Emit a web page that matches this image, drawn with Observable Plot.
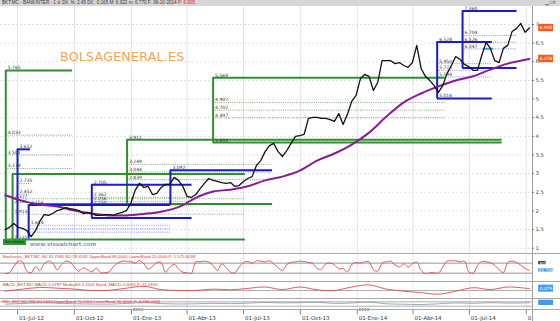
<!DOCTYPE html>
<html><head><meta charset="utf-8">
<script src="https://cdn.jsdelivr.net/npm/d3@7"></script>
<script src="https://cdn.jsdelivr.net/npm/@observablehq/plot@0.6"></script>
<style>
body{margin:0;background:#fff;font-family:"DejaVu Sans",sans-serif}
#root{position:relative;width:560px;height:321px;overflow:hidden;background:#fff}
#root svg{position:absolute;left:0;overflow:visible}
.hdr{position:absolute;left:0;top:0;width:558px;height:6px;background:#d6d6d6;font:4.6px "Liberation Sans";line-height:6px;color:#333;white-space:nowrap;padding-left:2px}
.wm{position:absolute;white-space:nowrap}
</style></head><body><div id="root"></div>
<script>
// ---------- data ----------
const weekStart = "2012-06-11";
const closeWeekly = [1.50,1.56,1.66,1.56,1.53,1.47,1.31,1.47,1.72,1.90,
1.88,1.93,2.01,2.04,2.09,2.06,2.04,2.01,1.93,1.96,
1.93,1.88,1.88,1.90,1.90,1.88,1.93,1.96,2.01,2.20,
2.55,2.74,2.63,2.66,2.44,2.47,2.63,2.71,2.71,2.90,
2.82,2.66,2.39,2.36,2.44,2.60,2.74,2.87,2.82,2.79,
2.76,2.74,2.76,2.66,2.68,2.79,2.87,2.92,3.22,3.35,
3.59,3.75,3.81,3.59,3.46,3.62,3.81,4.00,4.02,4.05,
4.48,4.51,4.51,4.48,4.48,4.45,4.40,4.61,4.32,4.59,
4.94,5.10,5.55,5.66,5.61,5.23,5.45,6.03,6.03,6.03,
5.95,5.98,5.90,5.85,5.98,6.44,5.82,5.61,5.50,5.36,
5.18,5.36,5.69,5.90,6.14,6.06,5.93,5.87,5.77,5.77,
6.17,6.52,6.36,6.03,5.98,6.36,6.44,6.81,6.89,7.03,
6.79,6.905];
const ma200Every4w = [2.42,2.27,2.17,2.12,2.01,1.93,1.88,1.88,1.92,1.98,2.10,2.35,2.52,2.57,2.66,2.82,2.92,3.08,3.35,3.54,3.78,4.10,4.53,4.91,5.15,5.34,5.50,5.61,5.79,5.95,6.076];
const stochK = [18,24,60,92,88,32,22,60,36,76,92,80,40,72,92,86,56,32,52,40,28,50,24,22,28,60,80,92,92,90,80,96,76,44,60,84,84,26,56,74,46,26,22,20,88,88,92,86,66,36,76,52,26,22,56,84,90,80,94,92,88,94,76,52,
36,72,84,88,92,90,84,78,48,44,76,80,70,46,48,28,72,84,80,88,88,40,32,80,88,92,68,58,76,56,76,86,36,18,22,22,20,56,92,94,94,88,92,28,20,64,90,88,82,68,40,24,84,92,84,68,48,36];
const macdEvery4w = [-0.03,0.06,0.13,0.10,0.06,0.00,0.01,0.10,0.18,0.04,0.00,0.00,0.06,0.03,0.09,0.15,0.04,0.15,0.03,0.00,0.15,0.24,0.06,-0.03,-0.09,-0.16,-0.03,0.12,0.04,0.15,0.079];
const rsiEvery4w = [48,55,60,58,52,50,49,55,62,54,50,52,56,53,58,64,60,62,66,55,60,67,52,48,45,52,60,56,62,58,61];
const priceTicks = [1,1.5,2,2.5,3,3.5,4,4.5,5,5.5,6,6.5,7];
const quarterTicks = ["2012-07-01","2012-10-01","2013-01-01","2013-04-01","2013-07-01","2013-10-01","2014-01-01","2014-04-01","2014-07-01","2014-10-01"];
const yearTicks = ["2013-01-01","2014-01-01"];
const monthNames = ["Ene","Feb","Mar","Abr","May","Jun","Jul","Ago","Sep","Oct","Nov","Dic"];

// drawing-tool lines: [from, to, value]
const greenLines = [
 ["2012-06-12","2012-09-28",5.765],
 ["2012-06-12","2013-07-04",1.231],
 ["2012-06-23","2013-07-04",2.993],
 ["2012-07-22","2013-08-17",2.185],
 ["2012-12-25","2014-08-23",3.911],
 ["2013-05-13","2014-05-23",5.569],
 ["2013-05-13","2014-08-23",3.833]
];
const greenVerticals = [ ["2012-06-12",1.231,5.765], ["2012-06-23",1.231,2.993], ["2012-12-25",2.177,3.911], ["2013-05-13",3.833,5.569] ];
const blueLines = [
 ["2012-07-01","2012-07-22",3.652],
 ["2012-07-19","2013-03-05",2.156],
 ["2012-10-29","2013-04-09",2.705],
 ["2012-10-29","2013-04-09",1.807],
 ["2013-03-05","2013-08-17",3.092],
 ["2014-05-10","2014-08-07",6.528],
 ["2014-05-10","2014-08-07",5.016],
 ["2014-06-20","2014-09-16",7.360],
 ["2014-06-20","2014-09-16",5.830]
];
const blueVerticals = [ ["2012-07-01",1.25,3.652], ["2012-07-19",1.25,2.156], ["2012-10-29",1.807,2.705], ["2013-03-05",2.156,3.092], ["2014-05-10",5.016,6.528], ["2014-06-20",5.830,7.360] ];
const lightBlueLines = [ ["2014-07-24","2014-08-09",6.35] ];
const greenDotted = [
 ["2012-06-12","2012-09-28",4.033], ["2012-06-12","2012-09-28",3.501], ["2012-06-12","2012-09-28",3.138],
 ["2012-06-23","2013-07-04",2.327], ["2012-06-23","2013-07-04",1.913],
 ["2012-12-25","2013-08-17",3.249], ["2012-12-25","2013-08-17",3.044], ["2012-12-25","2013-08-17",2.839],
 ["2013-05-13","2014-05-23",4.907], ["2013-05-13","2014-05-23",4.702], ["2013-05-13","2014-05-23",4.497]
];
const blueDotted = [
 ["2012-07-01","2012-07-22",2.735], ["2012-07-01","2012-07-22",2.452],
 ["2012-07-19","2013-03-05",1.614], ["2012-07-19","2013-03-05",1.52], ["2012-07-19","2013-03-05",1.43],
 ["2012-10-29","2013-04-09",2.362], ["2012-10-29","2013-04-09",2.256], ["2012-10-29","2013-04-09",2.150],
 ["2014-05-10","2014-08-07",5.950], ["2014-05-10","2014-08-07",5.772], ["2014-05-10","2014-08-07",5.594],
 ["2014-06-20","2014-09-16",6.704], ["2014-06-20","2014-09-16",6.526], ["2014-06-20","2014-09-16",6.347]
];
// level labels: [text, anchor date, value]
const levelLabels = [
 ["5.765","2012-06-12",5.765],["4.033","2012-06-12",4.033],["3.501","2012-06-12",3.501],["3.138","2012-06-12",3.138],
 ["3.652","2012-07-01",3.652],["2.735","2012-07-01",2.735],["2.452","2012-07-01",2.452],
 ["2.327","2012-06-23",2.327],["2.185","2012-06-23",2.185],["1.913","2012-06-23",1.913],["1.231","2012-06-23",1.231],
 ["2.156","2012-07-19",2.156],["1.614","2012-07-19",1.614],
 ["2.705","2012-10-29",2.705],["2.362","2012-10-29",2.362],["2.256","2012-10-29",2.256],["2.150","2012-10-29",2.150],
 ["3.911","2012-12-25",3.911],["3.249","2012-12-25",3.249],["3.044","2012-12-25",3.044],["2.839","2012-12-25",2.839],
 ["3.092","2013-03-05",3.092],
 ["5.569","2013-05-13",5.569],["4.907","2013-05-13",4.907],["4.702","2013-05-13",4.702],["4.497","2013-05-13",4.497],["3.833","2013-05-13",3.833],
 ["6.528","2014-05-10",6.528],["5.950","2014-05-10",5.950],["5.772","2014-05-10",5.772],["5.594","2014-05-10",5.594],["5.016","2014-05-10",5.016],
 ["7.360","2014-06-20",7.360],["6.704","2014-06-20",6.704],["6.526","2014-06-20",6.526],["6.347","2014-06-20",6.347]
];
const lastPrice = 6.905, lastMA = 6.076;
const stochTags = [["80",80,"#3a3a3a"],["35.708",35.708,"#3d9cf0"]];

// ---------- helpers ----------
const D = s => new Date(s + "T00:00:00Z");
const xDomain = [new Date("2012-06-03T12:00:00Z"), new Date("2014-10-11T00:00:00Z")];
const xEnd = xDomain[1];
const off = n => d3.utcDay.offset(xEnd, n);
const tagX1 = off(10.5), tagX2 = off(34), tagXm = off(22.2);
const weekly = (start, vals, step) => vals.map((v, i) => ({date: d3.utcDay.offset(D(start), i * step), v}));
const price = weekly(weekStart, closeWeekly, 7);
const lastDate = price[price.length-1].date;
const ma = weekly(weekStart, ma200Every4w, 28); ma[ma.length-1].date = lastDate;
const stoch = weekly(weekStart, stochK, 7);
const macd = weekly(weekStart, macdEvery4w, 28); macd[macd.length-1].date = lastDate;
const rsi = weekly(weekStart, rsiEvery4w, 28); rsi[rsi.length-1].date = lastDate;
const seg = a => a.map(([f, t, v]) => ({x1: D(f), x2: D(t), y: v}));
const vert = a => a.map(([d, lo, hi]) => ({x: D(d), y1: lo, y2: hi}));
const qTicks = quarterTicks.map(D);
const FONT = "DejaVu Sans";
const GREEN = "#2f8f2f", BLUE = "#1a1ad0";
const root = document.getElementById("root");
const common = {width: 560, marginLeft: 0, marginRight: 28, marginTop: 0, marginBottom: 0,
  style: {fontFamily: FONT, fontSize: "6px", background: "transparent", overflow: "visible"}};

// ---------- main price panel ----------
const main = Plot.plot({
  ...common, height: 253,
  x: {type: "utc", domain: xDomain, axis: null},
  y: {domain: [1, 7], range: [247.7, 24], axis: null},
  marks: [
    Plot.ruleX(qTicks, {stroke: "#dcdcdc", strokeWidth: 0.8}),
    Plot.ruleY(priceTicks, {stroke: "#e0e0e0", strokeDasharray: "2,2"}),
    Plot.ruleY(seg(greenDotted), {x1: "x1", x2: "x2", y: "y", stroke: "#6f9f6f", strokeWidth: 0.9, strokeDasharray: "1,1.2"}),
    Plot.ruleY(seg(blueDotted), {x1: "x1", x2: "x2", y: "y", stroke: "#7f7fe6", strokeWidth: 0.9, strokeDasharray: "1,1.2"}),
    Plot.ruleY(seg(greenLines), {x1: "x1", x2: "x2", y: "y", stroke: GREEN, strokeWidth: 2}),
    Plot.ruleX(vert(greenVerticals), {x: "x", y1: "y1", y2: "y2", stroke: GREEN, strokeWidth: 2}),
    Plot.ruleY(seg(blueLines), {x1: "x1", x2: "x2", y: "y", stroke: BLUE, strokeWidth: 2}),
    Plot.ruleX(vert(blueVerticals), {x: "x", y1: "y1", y2: "y2", stroke: BLUE, strokeWidth: 2}),
    Plot.ruleY(seg(lightBlueLines), {x1: "x1", x2: "x2", y: "y", stroke: "#3c9ad8", strokeWidth: 2}),
    Plot.lineY(ma, {x: "date", y: "v", stroke: "#8a1a9a", strokeWidth: 2, curve: "monotone-x"}),
    Plot.lineY(price, {x: "date", y: "v", stroke: "#111", strokeWidth: 1.3}),
    Plot.text(levelLabels, {x: d => D(d[1]), y: d => d[2], text: d => d[0], dx: 2, dy: -2.5, textAnchor: "start", fontSize: 4.5, fill: "#333"}),
    Plot.ruleX([xEnd], {stroke: "#888", strokeWidth: 0.8}),
    Plot.ruleY(priceTicks, {x1: xEnd, x2: off(3.5), y: d => d, stroke: "#666"}),
    Plot.text(priceTicks, {x: xEnd, y: d => d, text: d => String(d), dx: 3, textAnchor: "start", fontSize: 5.3, fill: "#444"}),
    Plot.rect([lastPrice, lastMA], {x1: tagX1, x2: tagX2, y1: d => d - 0.1, y2: d => d + 0.1, fill: "#ee5a24"}),
    Plot.text([lastPrice, lastMA], {x: tagXm, y: d => d, text: d => d.toFixed(3), fill: "white", fontSize: 4.4})
  ]
});
main.style.top = "0px";
root.appendChild(main);

// ---------- indicator panels ----------
const panelLabel = (txt) => Plot.text([txt], {frameAnchor: "top-left", dx: 2, dy: 1.5, fill: "#e0303a", fontSize: 4.3, fontFamily: "Liberation Sans", textAnchor: "start"});
const stochPlot = Plot.plot({
  ...common, height: 28,
  x: {type: "utc", domain: xDomain, axis: null},
  y: {domain: [0, 100], range: [23, 6.3], axis: null},
  marks: [
    Plot.ruleX(qTicks, {stroke: "#e2e2e2", strokeWidth: 0.8}),
    Plot.ruleY([80, 20], {stroke: "#8a8a8a", strokeWidth: 0.9}),
    Plot.lineY(stoch, {x: "date", y: "v", stroke: "#e0474c", strokeWidth: 0.9, curve: "catmull-rom"}),
    panelLabel("Stochastic_BKT.MC SK 35.7080 SD 29.6591 UpperBand 80.0000 LowerBand 20.0000 P: 1.575.6098"),
    Plot.ruleX([xEnd], {stroke: "#888", strokeWidth: 0.8}),
    Plot.rect(stochTags, {x1: tagX1, x2: d => d[0].length > 2 ? tagX2 : off(22), y1: d => d[1] - 10, y2: d => d[1] + 10, fill: d => d[2]}),
    Plot.text(stochTags, {x: d => d[0].length > 2 ? tagXm : off(16.2), y: d => d[1], text: d => d[0], fill: "white", fontSize: 4.4})
  ]
});
stochPlot.style.top = "253px";
root.appendChild(stochPlot);

const macdPlot = Plot.plot({
  ...common, height: 17,
  x: {type: "utc", domain: xDomain, axis: null},
  y: {domain: [-0.3, 0.3], range: [16, 2], axis: null},
  marks: [
    Plot.ruleX(qTicks, {stroke: "#e2e2e2", strokeWidth: 0.8}),
    Plot.ruleY([0], {stroke: "#9a9a9a", strokeWidth: 0.8}),
    Plot.lineY(macd, {x: "date", y: "v", stroke: "#e0474c", strokeWidth: 0.9, curve: "catmull-rom"}),
    panelLabel("MACD_BKT.MC MACD 0.0787 MediaSG 0.1001 Band_MACD 0.0000 P: 12.0920"),
    Plot.ruleX([xEnd], {stroke: "#888", strokeWidth: 0.8}),
    Plot.rect([0.079], {x1: tagX1, x2: tagX2, y1: d => d - 0.15, y2: d => d + 0.15, fill: "#3d9cf0"}),
    Plot.text([0.079], {x: tagXm, y: d => d, text: d => d.toFixed(3), fill: "white", fontSize: 4.4})
  ]
});
macdPlot.style.top = "281px";
root.appendChild(macdPlot);

const rsiPlot = Plot.plot({
  ...common, height: 11,
  x: {type: "utc", domain: xDomain, axis: null},
  y: {domain: [0, 100], range: [11, 0], axis: null},
  marks: [
    Plot.ruleX(qTicks, {stroke: "#e2e2e2", strokeWidth: 0.8}),
    Plot.ruleY([70, 30], {stroke: "#9a9a9a", strokeWidth: 0.8}),
    Plot.lineY(rsi, {x: "date", y: "v", stroke: "#7f93a8", strokeWidth: 0.8, curve: "catmull-rom"}),
    panelLabel("RSI_BKT.MC RSI 60.5650 UpperBand 70.0000 LowerBand 30.0000 P: 4.294.4444"),
    Plot.ruleX([xEnd], {stroke: "#888", strokeWidth: 0.8}),
    Plot.rect([60.565], {x1: tagX1, x2: tagX2, y1: d => d - 24, y2: d => d + 24, fill: "#3d9cf0"}),
    Plot.text([60.565], {x: tagXm, y: d => d, text: "60.565", fill: "white", fontSize: 4.4})
  ]
});
rsiPlot.style.top = "298px";
root.appendChild(rsiPlot);

// ---------- time axis ----------
const fmt = d => "01-" + monthNames[d.getUTCMonth()] + "-" + String(d.getUTCFullYear()).slice(2);
const axisPlot = Plot.plot({
  ...common, height: 12,
  x: {type: "utc", domain: xDomain, axis: null},
  y: {domain: [0, 1], range: [12, 0], axis: null},
  marks: [
    Plot.ruleX(qTicks, {y1: 1, y2: 0.55, stroke: "#666", strokeWidth: 0.8}),
    Plot.text(qTicks, {x: d => d, y: 0.25, text: fmt, dx: 1.5, textAnchor: "start", fontSize: 5.5, fill: "#333", clip: true}),
    Plot.text(yearTicks.map(D), {x: d => d, y: 0.95, text: d => String(d.getUTCFullYear()), dx: 1.5, textAnchor: "start", fontSize: 4, fill: "#333"}),
    Plot.ruleX([xEnd], {stroke: "#888", strokeWidth: 0.8})
  ]
});
axisPlot.style.top = "309px";
root.appendChild(axisPlot);

// panel separators
for (const t of [253, 281, 298, 309]) {
  const s = document.createElement("div");
  s.style.cssText = `position:absolute;left:0;top:${t}px;width:560px;height:0;border-top:1px solid #a8a8a8`;
  root.appendChild(s);
}
// header and watermarks
const hdr = document.createElement("div");
hdr.className = "hdr";
hdr.innerHTML = 'BKT.MC - BANKINTER - 1 d: Dif. %: 2.45 Dif.: 0.165 M: 6.922 m: 6.770 F: 06-10-2014 <span style="color:#e02020">P: 6.905</span><span style="position:absolute;right:4px;color:#555">▁□✕</span>';
root.appendChild(hdr);
const wm = (txt, css) => { const e = document.createElement("div"); e.className = "wm"; e.style.cssText += css; e.textContent = txt; root.appendChild(e); return e; };
wm("BOLSAGENERAL.ES", "left:60px;top:49px;font:12.5px 'DejaVu Sans';color:#f3a353;letter-spacing:0.3px");
wm("www.visualchart.com", "left:30px;top:241px;font:bold 5.5px 'DejaVu Sans';color:#8f8fce");
wm("Sin Interés", "left:3px;top:239px;font:3.6px 'DejaVu Sans';color:#111;background:#2f9a2f;padding:1px 2px");
</script></body></html>
